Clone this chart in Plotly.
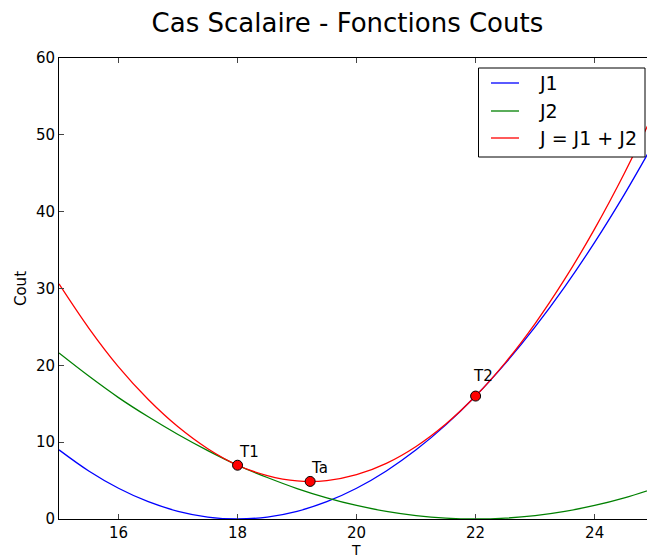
import plotly.graph_objects as go

# Data
T = [15.0, 15.5, 16.0, 16.5, 17.0, 17.5, 18.0, 18.5, 19.0, 19.5, 20.0,
     20.5, 21.0, 21.5, 22.0, 22.5, 23.0, 23.5, 24.0, 24.5, 25.0]
J1 = [9.0, 6.25, 4.0, 2.25, 1.0, 0.25, 0.0, 0.25, 1.0, 2.25, 4.0,
      6.25, 9.0, 12.25, 16.0, 20.25, 25.0, 30.25, 36.0, 42.25, 49.0]
J2 = [21.6, 18.6, 15.8, 13.3, 11.0, 8.9, 7.0, 5.4, 3.96, 2.75, 1.76,
      0.99, 0.44, 0.11, 0.0, 0.11, 0.44, 0.99, 1.76, 2.75, 3.96]
J = [30.6, 24.85, 19.8, 15.55, 12.0, 9.15, 7.0, 5.65, 4.96, 5.0, 5.76,
     7.24, 9.44, 12.36, 16.0, 20.36, 25.44, 31.24, 37.76, 45.0, 52.96]

series_names = ["J1", "J2", "J = J1 + J2"]
series_colors = ["#0000ff", "#008000", "#ff0000"]

point_labels = ["T1", "Ta", "T2"]
point_T = [18.0, 19.22, 22.0]
point_J = [7.0, 4.89, 16.0]

x_ticks = [16, 18, 20, 22, 24]
y_ticks = [0, 10, 20, 30, 40, 50, 60]

FONT = "DejaVu Sans"

# plot area geometry (pixels) for placing the legend box
L, R, TOP, BOT = 59, 647, 58, 519


def px_x(p):
    return (p - L) / (R - L)


def px_y(p):
    return (BOT - p) / (BOT - TOP)


fig = go.Figure()
for name, vals, col in zip(series_names, [J1, J2, J], series_colors):
    fig.add_trace(go.Scatter(x=T, y=vals, name=name, mode="lines", line_shape="spline",
                             showlegend=False, line=dict(color=col, width=1.3)))
fig.add_trace(go.Scatter(x=point_T, y=point_J, mode="markers", showlegend=False,
                         marker=dict(color="#ff0000", size=10,
                                     line=dict(color="black", width=1))))

# point labels
label_shift = [(0, 13), (0, 13), (-4, 20)]
for lab, xv, yv, (dx, dy) in zip(point_labels, point_T, point_J, label_shift):
    fig.add_annotation(x=xv, y=yv, text=lab, showarrow=False, xanchor="left",
                       yanchor="middle", xshift=dx - 1, yshift=dy,
                       font=dict(family=FONT, size=15, color="black"))

# legend drawn as box + sample lines + texts
fig.add_shape(type="rect", xref="paper", yref="paper",
              x0=px_x(478.5), x1=px_x(645), y0=px_y(157), y1=px_y(68),
              line=dict(color="black", width=1), fillcolor="white", layer="above")
rows = [83, 111, 138]
for name, col, ry in zip(series_names, series_colors, rows):
    fig.add_shape(type="line", xref="paper", yref="paper",
                  x0=px_x(491), x1=px_x(519), y0=px_y(ry), y1=px_y(ry),
                  line=dict(color=col, width=1.3), layer="above")
    fig.add_annotation(xref="paper", yref="paper", x=px_x(537), y=px_y(ry),
                       text=name, showarrow=False, xanchor="left", yanchor="middle",
                       font=dict(family=FONT, size=19, color="black"))

# x axis title
fig.add_annotation(xref="paper", yref="paper", x=px_x(356), y=px_y(549.5),
                   text="T", showarrow=False, xanchor="center", yanchor="middle",
                   font=dict(family=FONT, size=14, color="black"))

fig.update_layout(
    width=647, height=557,
    margin=dict(l=L, r=647 - R, t=TOP, b=557 - BOT, autoexpand=False),
    paper_bgcolor="white", plot_bgcolor="white",
    font=dict(family=FONT, size=14, color="black"),
    title=dict(text="Cas Scalaire - Fonctions Couts", x=0.537, xanchor="center",
               y=1 - 23 / 557, yanchor="middle", font=dict(family=FONT, size=26)),
    showlegend=False,
)
fig.update_xaxes(range=[15, 24.88], tickvals=x_ticks, ticks="inside", ticklen=5,
                 showline=True, linecolor="black", linewidth=1, mirror="ticks",
                 showgrid=False, zeroline=False, tickfont=dict(size=15))
fig.update_yaxes(range=[0, 60], tickvals=y_ticks, ticks="inside", ticklen=5,
                 showline=True, linecolor="black", linewidth=1, mirror=False,
                 showgrid=False, zeroline=False, tickfont=dict(size=15),
                 title=dict(text="Cout", font=dict(size=15), standoff=5))

fig.write_html("out.html", config={"displayModeBar": False},
               post_script="document.body.style.margin='0';")
